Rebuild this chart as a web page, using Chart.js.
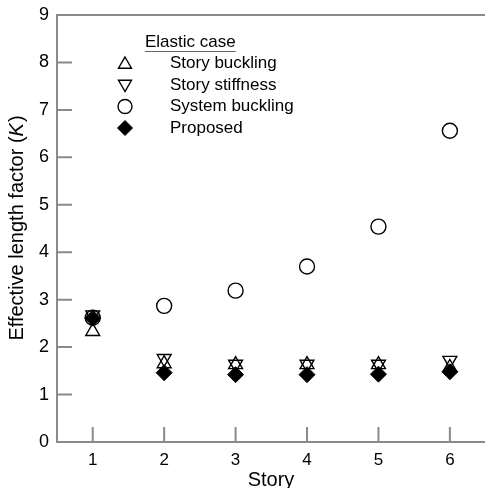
<!DOCTYPE html>
<html><head><meta charset="utf-8">
<script src="https://cdn.jsdelivr.net/npm/chart.js@4"></script>
<style>html,body{margin:0;padding:0;background:#fff;overflow:hidden}#wrap{width:485px;height:488px;overflow:hidden}canvas{display:block}</style>
</head><body><div id="wrap"><canvas id="c" width="495" height="488"></canvas></div>
<script>
const stories = [1, 2, 3, 4, 5, 6];
const storyBuckling = [2.33, 1.65, 1.63, 1.63, 1.63, 1.57];
const storyStiffness = [2.68, 1.76, 1.64, 1.64, 1.64, 1.72];
const systemBuckling = [2.62, 2.87, 3.19, 3.70, 4.54, 6.56];
const proposed = [2.61, 1.46, 1.42, 1.42, 1.43, 1.48];
const seriesNames = ['Story buckling', 'Story stiffness', 'System buckling', 'Proposed'];
const yTicks = [0, 1, 2, 3, 4, 5, 6, 7, 8, 9];
const legendTitle = 'Elastic case';

const FONT = '"Liberation Sans", Arial, sans-serif';
const AX = '#8a8a8a';
const toPts = arr => arr.map((v, i) => ({x: stories[i], y: v}));

const datasets = [
  {label: seriesNames[0], data: toPts(storyBuckling), pointStyle: 'triangle', rotation: 0, radius: 8, backgroundColor: 'rgba(0,0,0,0)', borderColor: '#000', borderWidth: 1.4, order: 3},
  {label: seriesNames[1], data: toPts(storyStiffness), pointStyle: 'triangle', rotation: 180, radius: 8, backgroundColor: 'rgba(0,0,0,0)', borderColor: '#000', borderWidth: 1.4, order: 2},
  {label: seriesNames[2], data: toPts(systemBuckling), pointStyle: 'circle', radius: 7.5, backgroundColor: 'rgba(0,0,0,0)', borderColor: '#000', borderWidth: 1.4, order: 1},
  {label: seriesNames[3], data: toPts(proposed), pointStyle: 'rectRot', radius: 8, backgroundColor: '#000', borderColor: '#000', borderWidth: 1, order: 0}
];
datasets.forEach(d => { d.showLine = false; d.pointRadius = d.radius; d.pointHoverRadius = d.radius; d.pointRotation = d.rotation || 0; });

const decor = {
  id: 'decor',
  afterDraw(chart) {
    const ctx = chart.ctx, ca = chart.chartArea;
    const xs = chart.scales.x, ys = chart.scales.y;
    ctx.save();
    ctx.strokeStyle = AX; ctx.lineWidth = 2;
    // top border
    ctx.beginPath(); ctx.moveTo(ca.left, ca.top); ctx.lineTo(ca.right + 2, ca.top); ctx.stroke();
    // inward ticks
    ctx.beginPath();
    stories.forEach(s => { const px = xs.getPixelForValue(s); ctx.moveTo(px, ca.bottom); ctx.lineTo(px, ca.bottom - 15); });
    yTicks.slice(1, -1).forEach(t => { const py = ys.getPixelForValue(t); ctx.moveTo(ca.left, py); ctx.lineTo(ca.left + 15, py); });
    ctx.stroke();
    // axis titles
    ctx.fillStyle = '#000';
    ctx.font = '20px ' + FONT;
    ctx.textAlign = 'center'; ctx.textBaseline = 'alphabetic';
    ctx.fillText('Story', 271, 486);
    ctx.save();
    ctx.translate(23, (ca.top + ca.bottom) / 2);
    ctx.rotate(-Math.PI / 2);
    const p1 = 'Effective length factor (', p2 = 'K', p3 = ')';
    ctx.font = '20px ' + FONT; const w1 = ctx.measureText(p1).width, w3 = ctx.measureText(p3).width;
    ctx.font = 'italic 20px ' + FONT; const w2 = ctx.measureText(p2).width;
    let x0 = -(w1 + w2 + w3) / 2;
    ctx.textAlign = 'left';
    ctx.font = '20px ' + FONT; ctx.fillText(p1, x0, 0);
    ctx.font = 'italic 20px ' + FONT; ctx.fillText(p2, x0 + w1, 0);
    ctx.font = '20px ' + FONT; ctx.fillText(p3, x0 + w1 + w2 + 1, 0);
    ctx.restore();
    // legend
    ctx.font = '17px ' + FONT; ctx.textAlign = 'left'; ctx.textBaseline = 'middle';
    ctx.fillText(legendTitle, 145, 42);
    const tw = ctx.measureText(legendTitle).width;
    ctx.strokeStyle = '#666'; ctx.lineWidth = 1.2;
    ctx.beginPath(); ctx.moveTo(145, 51.5); ctx.lineTo(145 + tw, 51.5); ctx.stroke();
    chart.data.datasets.forEach((d, i) => {
      const y = 63.5 + i * 21.5;
      ctx.fillStyle = '#000';
      ctx.fillText(d.label, 170, y);
      ctx.strokeStyle = d.borderColor; ctx.fillStyle = d.backgroundColor; ctx.lineWidth = d.borderWidth;
      Chart.helpers.drawPoint(ctx, {pointStyle: d.pointStyle, rotation: d.pointRotation, radius: d.pointRadius - 0.5, borderWidth: d.borderWidth}, 125, y + (d.pointStyle === 'triangle' ? (d.pointRotation ? -1 : 1) : 0));
    });
    ctx.restore();
  }
};

new Chart(document.getElementById('c'), {
  type: 'scatter',
  data: {datasets},
  options: {
    responsive: false, animation: false, devicePixelRatio: 1,
    layout: {padding: {top: 15, right: 0, left: 0, bottom: 0}},
    plugins: {legend: {display: false}, tooltip: {enabled: false}},
    scales: {
      x: {
        type: 'linear', min: 0.5, max: 6.5,
        afterBuildTicks: s => { s.ticks = stories.map(v => ({value: v})); },
        afterFit: s => { s.height = 46; },
        grid: {display: false, drawTicks: false},
        border: {display: true, color: AX, width: 2},
        ticks: {color: '#000', font: {family: FONT, size: 17}, padding: 8, maxRotation: 0, callback: v => String(v)}
      },
      y: {
        type: 'linear', min: 0, max: 9,
        afterBuildTicks: s => { s.ticks = yTicks.map(v => ({value: v})); },
        afterFit: s => { s.width = 57; s.paddingTop = 0; s.paddingBottom = 0; },
        grid: {display: false, drawTicks: false},
        border: {display: true, color: AX, width: 2},
        ticks: {color: '#000', font: {family: FONT, size: 18}, padding: 8, callback: v => String(v)}
      }
    }
  },
  plugins: [decor]
});
</script></body></html>
